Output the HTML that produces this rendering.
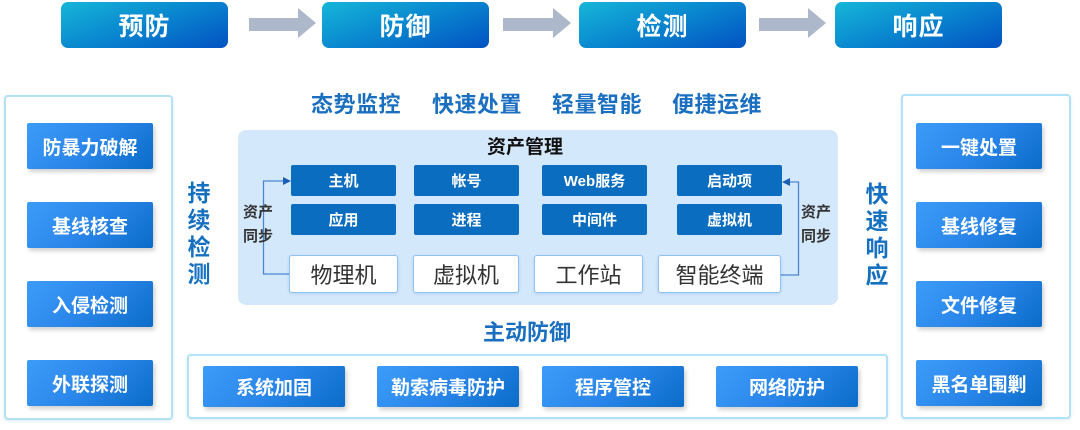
<!DOCTYPE html>
<html><head><meta charset="utf-8">
<style>
*{margin:0;padding:0;box-sizing:border-box}
body{width:1080px;height:430px;background:#fff;position:relative;overflow:hidden;font-family:"Liberation Sans","Noto Sans CJK SC",sans-serif}
.a{position:absolute}
.c{display:flex;align-items:center;justify-content:center}
.top{top:2px;width:167px;height:46px;border-radius:7px;background:linear-gradient(160deg,#16b6d8 0%,#0a8ad0 45%,#0252c2 100%);color:#fff;font-weight:bold;font-size:25px;letter-spacing:1px}
.panel{border:2px solid #b3e1f5;border-radius:4px;background:#fff;box-shadow:0 1px 3px rgba(120,180,220,.25)}
.btn{width:126px;height:46px;border-radius:2px;background:linear-gradient(135deg,#3c9cf8 0%,#2a86ea 50%,#0a6cc8 100%);color:#fff;font-weight:bold;font-size:19px;box-shadow:2px 3px 4px rgba(0,0,0,.18)}
.bb{top:366px;height:41px;width:142px;border-radius:2px;background:linear-gradient(135deg,#3c9cf8 0%,#2a86ea 50%,#0a6cc8 100%);color:#fff;font-weight:bold;font-size:19px;box-shadow:2px 3px 4px rgba(0,0,0,.18)}
.hd{top:92px;font-size:22px;font-weight:bold;color:#1a6fc0;line-height:26px;letter-spacing:0.5px}
.chip{height:31px;width:105px;background:#0b6dbf;color:#fff;font-weight:bold;font-size:15px;border-radius:2px}
.wb{top:255px;height:38px;background:#fff;border:1px solid #8fc2f2;border-radius:3px;color:#333;font-size:22px;box-shadow:0 1px 3px rgba(0,80,160,.15)}
.vt{font-size:23px;font-weight:bold;color:#1570c0;line-height:27px;width:26px;text-align:center}
.lab{font-size:15px;font-weight:bold;color:#333;line-height:24px;width:34px;text-align:center}
</style></head><body>

<div class="a c top" style="left:61px">预防</div>
<div class="a c top" style="left:322px">防御</div>
<div class="a c top" style="left:579px">检测</div>
<div class="a c top" style="left:835px">响应</div>

<svg class="a" style="left:0;top:0" width="1080" height="50">
<g fill="#adb8ca">
<polygon points="249,18 298,18 298,8 316,23 298,38 298,31 249,31"/>
<polygon points="503,18 553,18 553,8 571,23 553,38 553,31 503,31"/>
<polygon points="759,18 808,18 808,8 826,23 808,38 808,31 759,31"/>
</g>
</svg>

<!-- left panel -->
<div class="a panel" style="left:4px;top:95px;width:169px;height:325px"></div>
<div class="a c btn" style="left:27px;top:123px">防暴力破解</div>
<div class="a c btn" style="left:27px;top:202px">基线核查</div>
<div class="a c btn" style="left:27px;top:281px">入侵检测</div>
<div class="a c btn" style="left:27px;top:360px">外联探测</div>

<!-- right panel -->
<div class="a panel" style="left:901px;top:94px;width:170px;height:325px"></div>
<div class="a c btn" style="left:916px;top:123px">一键处置</div>
<div class="a c btn" style="left:916px;top:202px">基线修复</div>
<div class="a c btn" style="left:916px;top:281px">文件修复</div>
<div class="a c btn" style="left:916px;top:360px">黑名单围剿</div>

<!-- vertical labels -->
<div class="a vt" style="left:186px;top:180px">持<br>续<br>检<br>测</div>
<div class="a vt" style="left:864px;top:181px">快<br>速<br>响<br>应</div>

<!-- headings -->
<div class="a hd" style="left:311px">态势监控</div>
<div class="a hd" style="left:432px">快速处置</div>
<div class="a hd" style="left:552px">轻量智能</div>
<div class="a hd" style="left:672px">便捷运维</div>

<!-- asset panel -->
<div class="a" style="left:238px;top:130px;width:600px;height:175px;background:#d4e8fc;border-radius:8px"></div>
<div class="a" style="left:487px;top:136px;font-size:19px;font-weight:bold;color:#111;line-height:24px">资产管理</div>

<div class="a c chip" style="left:291px;top:165px">主机</div>
<div class="a c chip" style="left:414px;top:165px">帐号</div>
<div class="a c chip" style="left:542px;top:165px">Web服务</div>
<div class="a c chip" style="left:677px;top:165px">启动项</div>
<div class="a c chip" style="left:291px;top:204px">应用</div>
<div class="a c chip" style="left:414px;top:204px">进程</div>
<div class="a c chip" style="left:542px;top:204px">中间件</div>
<div class="a c chip" style="left:677px;top:204px">虚拟机</div>

<svg class="a" style="left:0;top:0" width="1080" height="430">
<g fill="none" stroke="#4a86cf" stroke-width="1.3">
<polyline points="289,274 263.5,274 263.5,181 285,181"/>
<polyline points="781,275 798.5,275 798.5,182 788,182"/>
</g>
<polygon points="291,181 283,177 283,185" fill="#1a5fb4"/>
<polygon points="782,182 790,178 790,186" fill="#1a5fb4"/>
</svg>
<div class="a lab" style="left:241px;top:201px">资产<br>同步</div>
<div class="a lab" style="left:799px;top:201px">资产<br>同步</div>

<div class="a c wb" style="left:289px;width:109px">物理机</div>
<div class="a c wb" style="left:413px;width:106px">虚拟机</div>
<div class="a c wb" style="left:534px;width:109px">工作站</div>
<div class="a c wb" style="left:658px;width:123px">智能终端</div>

<!-- bottom -->
<div class="a" style="left:483px;top:320px;font-size:22px;font-weight:bold;color:#1a6fc0;line-height:26px">主动防御</div>
<div class="a panel" style="left:187px;top:354px;width:701px;height:65px"></div>
<div class="a c bb" style="left:203px">系统加固</div>
<div class="a c bb" style="left:377px">勒索病毒防护</div>
<div class="a c bb" style="left:542px">程序管控</div>
<div class="a c bb" style="left:716px">网络防护</div>

</body></html>
